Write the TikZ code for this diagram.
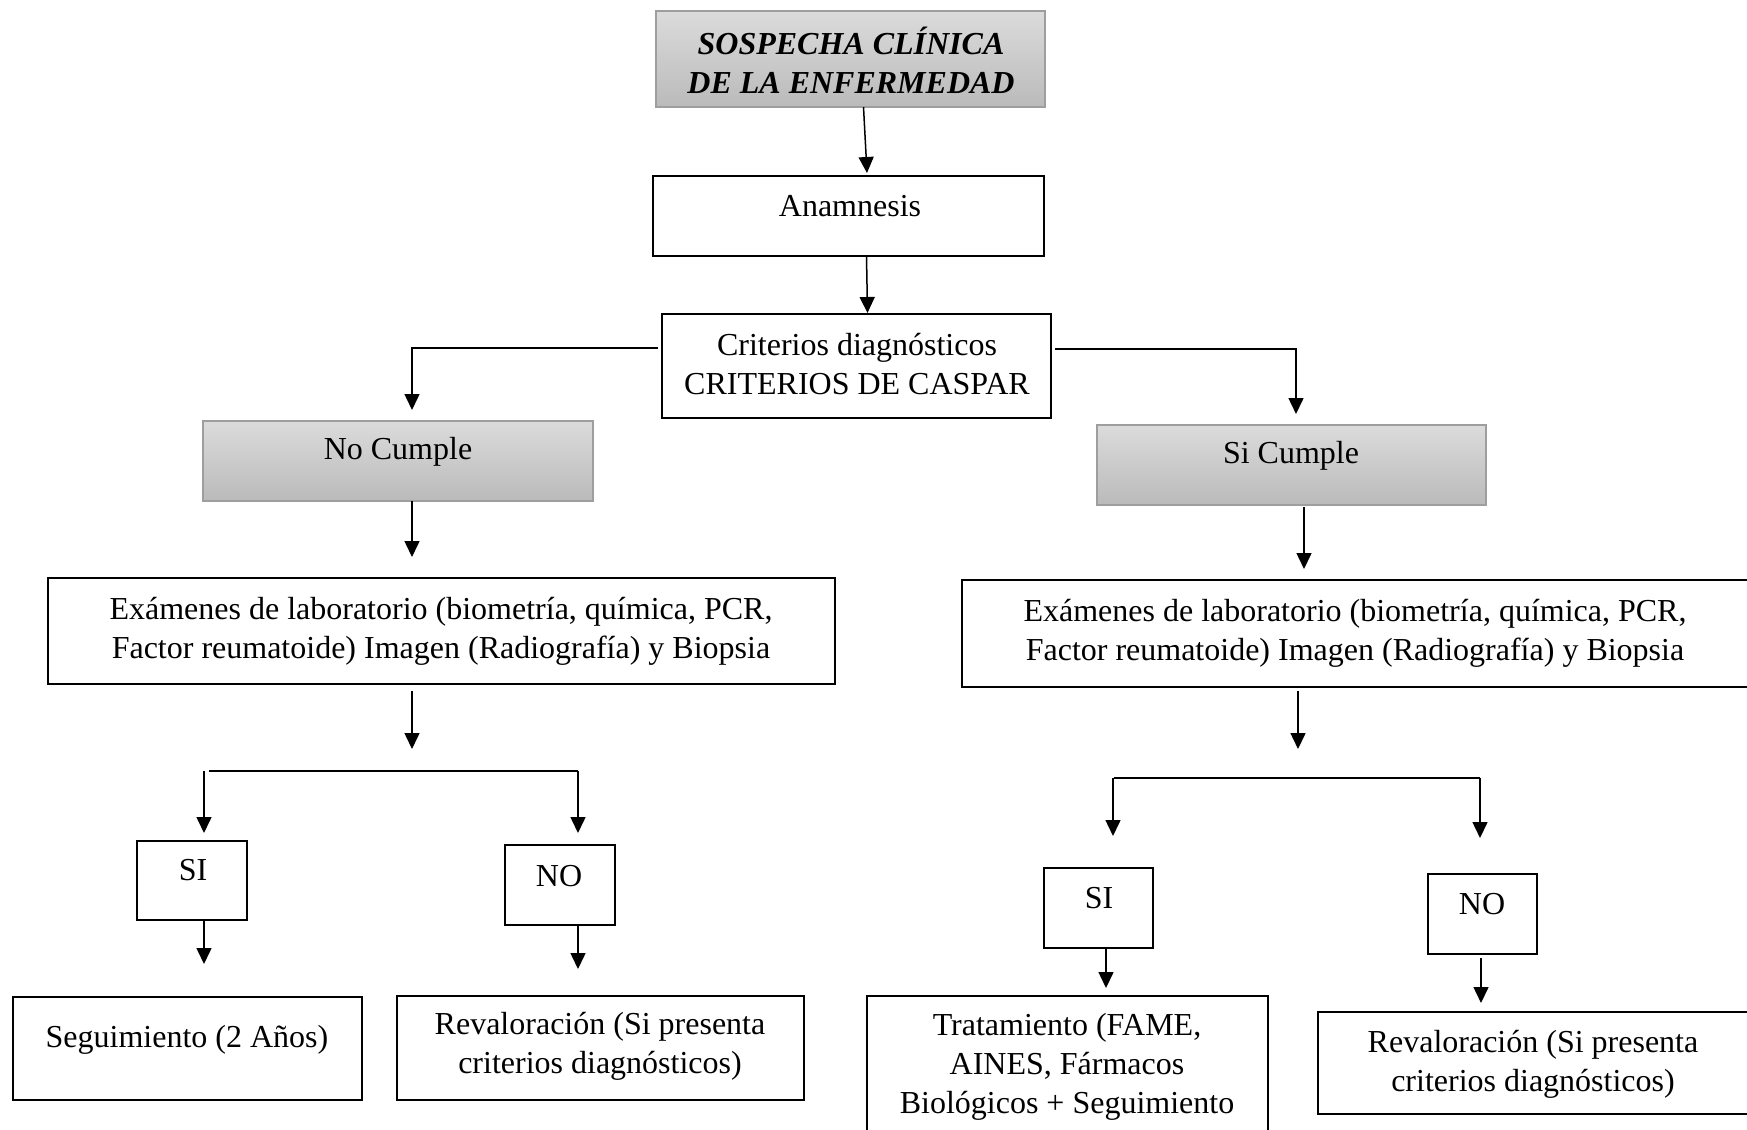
\documentclass[tikz,border=0pt]{standalone}
\usepackage{fontspec}
\setmainfont{Liberation Serif}
\usetikzlibrary{arrows.meta,calc}
\begin{document}
\begin{tikzpicture}[x=1pt,y=-1pt,
 box/.style={draw=black, line width=2.7pt, anchor=north west, inner sep=0pt, outer sep=0pt, fill=white},
 gbox/.style={draw=black!38, line width=1.4pt, anchor=north west, inner sep=0pt, outer sep=0pt, top color=black!14, bottom color=black!27},
 txt/.style={font=\fontsize{32}{39}\selectfont, align=center, inner sep=0pt},
 conn/.style={line width=1.5pt},
 arr/.style={conn, -{Triangle[length=16pt,width=15pt]}}
]
\path[use as bounding box, clip] (0,0) rectangle (1747,1129);
\fill[white] (0,0) rectangle (1747,1129);

% boxes
\node[gbox, minimum width=389pt, minimum height=96pt] (top) at (656,11) {};
\node[box, minimum width=391pt, minimum height=80pt] (anam) at (653,176) {};
\node[box, minimum width=389pt, minimum height=104pt] (crit) at (662,314) {};
\node[gbox, minimum width=390pt, minimum height=80pt] (nocum) at (203,421) {};
\node[gbox, minimum width=389pt, minimum height=80pt] (sicum) at (1097,425) {};
\node[box, minimum width=787pt, minimum height=106pt] (exL) at (48,578) {};
\node[box, minimum width=790pt, minimum height=107pt] (exR) at (962,580) {};
\node[box, minimum width=110pt, minimum height=79pt] (siL) at (137,841) {};
\node[box, minimum width=110pt, minimum height=80pt] (noL) at (505,845) {};
\node[box, minimum width=109pt, minimum height=80pt] (siR) at (1044,868) {};
\node[box, minimum width=109pt, minimum height=80pt] (noR) at (1428,874) {};
\node[box, minimum width=349pt, minimum height=103pt] (seg) at (13,997) {};
\node[box, minimum width=407pt, minimum height=104pt] (revL) at (397,996) {};
\node[box, minimum width=401pt, minimum height=150pt] (trat) at (867,996) {};
\node[box, minimum width=432pt, minimum height=102pt] (revR) at (1318,1012) {};

% texts
\node[txt, font=\fontsize{32}{39}\selectfont\bfseries\itshape] (topt) at (851,60) {SOSPECHA CLÍNICA\\DE LA ENFERMEDAD};
\node[txt] (anamt) at (850,206) {Anamnesis};
\node[txt] (critt) at (857,364) {Criterios diagnósticos\\CRITERIOS DE CASPAR};
\node[txt] (nocumt) at (398,452) {No Cumple};
\node[txt] (sicumt) at (1291,456) {Si Cumple};
\node[txt] (exLt) at (441,631) {Exámenes de laboratorio (biometría, química, PCR,\\Factor reumatoide) Imagen (Radiografía) y Biopsia};
\node[txt] (exRt) at (1355,633) {Exámenes de laboratorio (biometría, química, PCR,\\Factor reumatoide) Imagen (Radiografía) y Biopsia};
\node[txt] (siLt) at (193,870) {SI};
\node[txt] (noLt) at (559,876) {NO};
\node[txt] (siRt) at (1099,898) {SI};
\node[txt] (noRt) at (1482,904) {NO};
\node[txt] (segt) at (187,1040) {Seguimiento (2 Años)};
\node[txt] (revLt) at (600,1046) {Revaloración (Si presenta\\criterios diagnósticos)};
\node[txt] (tratt) at (1067,1067) {Tratamiento (FAME,\\AINES, Fármacos\\Biológicos + Seguimiento};
\node[txt] (revRt) at (1533,1064) {Revaloración (Si presenta\\criterios diagnósticos)};

% connectors
\draw[arr] ($(top.south)+(13,0)$) -- ($(anam.north)+(18.5,-3)$);
\draw[arr] ($(anam.south)+(18,0)$) -- ($(crit.north)+(11,-1)$);
\draw[arr] ($(crit.west)+(-4,-18)$) -| ($(nocum.north)+(14,-11)$);
\draw[arr] ($(crit.east)+(4,-17)$) -| ($(sicum.north)+(4.5,-11)$);
\draw[arr] ($(nocum.south)+(14,0)$) -- ($(exL.north)+(-29.5,-21)$);
\draw[arr] ($(sicum.south)+(12.5,2)$) -- ($(exR.north)+(-53,-11)$);
\draw[arr] ($(exL.south)+(-29.5,7)$) -- ($(exL.south)+(-29.5,65)$);
\draw[arr] ($(exR.south)+(-59,4)$) -- ($(exR.south)+(-59,62)$);
% left split
\draw[conn] ($(siL.north)+(17,-70)$) -- ($(noL.north)+(18,-74)$);
\draw[arr] ($(siL.north)+(12,-70)$) -- ($(siL.north)+(12,-8)$);
\draw[arr] ($(noL.north)+(18,-74)$) -- ($(noL.north)+(18,-12)$);
% right split
\draw[conn] ($(siR.north)+(15.5,-90)$) -- ($(noR.north)+(-2.5,-96)$);
\draw[arr] ($(siR.north)+(14.5,-90)$) -- ($(siR.north)+(14.5,-32)$);
\draw[arr] ($(noR.north)+(-2.5,-96)$) -- ($(noR.north)+(-2.5,-36)$);
% to final boxes
\draw[arr] ($(siL.south)+(12,0)$) -- ($(seg.north)+(16.5,-33)$);
\draw[arr] ($(noL.south)+(18,0)$) -- ($(revL.north)+(-22.5,-27)$);
\draw[arr] ($(siR.south)+(7.5,0)$) -- ($(trat.north)+(38.5,-8)$);
\draw[arr] ($(noR.south)+(-1.5,4)$) -- ($(revR.north)+(-53,-9)$);
\end{tikzpicture}
\end{document}
